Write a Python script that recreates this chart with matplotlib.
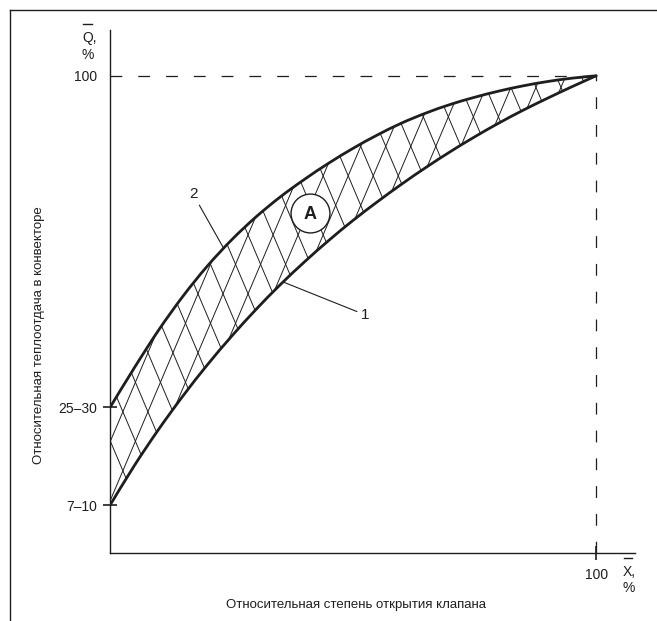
import numpy as np
import matplotlib.pyplot as plt
from matplotlib.patches import PathPatch
from matplotlib.path import Path
from matplotlib.collections import LineCollection
from matplotlib.lines import Line2D

plt.rcParams['font.family'] = ['Liberation Sans', 'DejaVu Sans']
plt.rcParams['lines.scale_dashes'] = False

# valve opening, %
x_open = [0, 5, 10, 15, 20, 25, 30, 35, 40, 45, 50,
          55, 60, 65, 70, 75, 80, 85, 90, 95, 100]
# curve 1 (lower boundary), relative heat output, %
q_lower = [10.0, 18.3, 25.9, 32.9, 39.4, 45.4, 51.0, 56.2, 61.0, 65.5, 69.7,
           73.6, 77.3, 80.8, 84.1, 87.2, 90.1, 92.8, 95.3, 97.7, 100.0]
# curve 2 (upper boundary)
q_upper = [30.5, 38.8, 46.7, 53.8, 60.1, 65.6, 70.4, 74.6, 78.3, 81.7, 84.8,
           87.6, 90.1, 92.2, 94.0, 95.5, 96.8, 97.9, 98.8, 99.5, 100.0]

ytick_pos = [q_lower[0], q_upper[0], 100]
ytick_labels = ['7\u201310', '25\u201330', '100']
xtick_pos = [100]
xtick_labels = ['100']

ink = '#1e1e1e'


def smooth_path_verts(xs, ys):
    """Cubic Bezier pieces (Catmull-Rom tangents) through the given points."""
    p = np.column_stack([xs, ys]).astype(float)
    n = len(p)
    verts = [p[0]]
    codes = [Path.MOVETO]
    for i in range(n - 1):
        p0 = p[max(i - 1, 0)]
        p1, p2 = p[i], p[i + 1]
        p3 = p[min(i + 2, n - 1)]
        verts += [p1 + (p2 - p0) / 6, p2 - (p3 - p1) / 6, p2]
        codes += [Path.CURVE4] * 3
    return np.array(verts), codes


fig = plt.figure(figsize=(6.57, 6.21), dpi=100)
ax = fig.add_axes([110 / 657, 68 / 621, 525 / 657, 523 / 621])
ax.set_xlim(0, 108)
ax.set_ylim(0, 109.6)
for side in ['top', 'right']:
    ax.spines[side].set_visible(False)
for side in ['left', 'bottom']:
    ax.spines[side].set_linewidth(1.0)
    ax.spines[side].set_color(ink)

ax.set_yticks(ytick_pos)
ax.set_yticklabels(ytick_labels)
ax.set_xticks(xtick_pos)
ax.set_xticklabels(xtick_labels)
ax.tick_params(axis='y', direction='inout', length=10, width=1.2, pad=4.3,
               labelsize=10, colors=ink)
ax.tick_params(axis='x', direction='inout', length=10, width=1.2, pad=5.8,
               labelsize=10, colors=ink)
ax.yaxis.get_major_ticks()[2].tick1line.set_visible(False)

# dashed guides to the 100 % point
ax.plot([0, x_open[-1]], [q_upper[-1], q_upper[-1]], color=ink, lw=0.9,
        ls=(0, (8.5, 11.5)), zorder=1)
ax.plot([x_open[-1], x_open[-1]], [0, q_upper[-1]], color=ink, lw=0.9,
        ls=(0, (8.5, 11.5)), zorder=1)

up_v, up_c = smooth_path_verts(x_open, q_upper)
lo_v, lo_c = smooth_path_verts(x_open, q_lower)

# band outline: upper curve forward, lower curve backward
lo_rev_v, lo_rev_c = smooth_path_verts(x_open[::-1], q_lower[::-1])
band_v = np.vstack([up_v, lo_rev_v, up_v[:1]])
band_c = up_c + [Path.LINETO] + lo_rev_c[1:] + [Path.CLOSEPOLY]
band = PathPatch(Path(band_v, band_c), fc='none', ec='none')
ax.add_patch(band)

# cross hatching of the band between the curves
h_step = 5.15
h_slope = 2.4
h_x0, h_y0 = 7.8, 29.6
segs = []
for k in range(-30, 30):
    xa = h_x0 + k * h_step
    segs.append([(xa - 50, h_y0 - 50 * h_slope), (xa + 50, h_y0 + 50 * h_slope)])
    segs.append([(xa - 50, h_y0 + 50 * h_slope), (xa + 50, h_y0 - 50 * h_slope)])
hatch = LineCollection(segs, colors=ink, linewidths=0.7, zorder=2)
ax.add_collection(hatch)
hatch.set_clip_path(band)

for v, c in [(up_v, up_c), (lo_v, lo_c)]:
    ax.add_patch(PathPatch(Path(v, c), fc='none', ec=ink, lw=2.0, zorder=3,
                           capstyle='round'))

# region marker A
ax.plot(41.2, 71.3, 'o', ms=28, mfc='white', mec=ink, mew=1.0, zorder=4)
ax.text(41.2, 71.3, 'A', ha='center', va='center_baseline', fontsize=13,
        fontweight='bold', color=ink, zorder=5)

# curve numbers
ax.annotate('2', xy=(23.3, 64.0), xytext=(17.1, 75.2), fontsize=11,
            color=ink, ha='center', va='center',
            arrowprops=dict(arrowstyle='-', lw=0.8, color=ink, shrinkA=1, shrinkB=0))
ax.annotate('1', xy=(35.6, 56.8), xytext=(52.5, 49.9), fontsize=11,
            color=ink, ha='center', va='center',
            arrowprops=dict(arrowstyle='-', lw=0.8, color=ink, shrinkA=1, shrinkB=0))

# axis symbols
W, H = 657, 621
fig.text(82 / W, 1 - 38 / H, 'Q,', ha='left', va='center', fontsize=10, color=ink)
fig.text(88 / W, 1 - 55 / H, '%', ha='center', va='center', fontsize=10, color=ink)
fig.add_artist(Line2D([83 / W, 92 / W], [1 - 24 / H, 1 - 24 / H], color=ink, lw=1.0))
fig.text(623 / W, 1 - 572 / H, 'X,', ha='left', va='center', fontsize=10, color=ink)
fig.text(629 / W, 1 - 588 / H, '%', ha='center', va='center', fontsize=10, color=ink)
fig.add_artist(Line2D([624 / W, 632 / W], [1 - 558 / H, 1 - 558 / H], color=ink, lw=1.0))

fig.text(356 / W, 1 - 605 / H, 'Относительная степень открытия клапана',
         ha='center', va='center', fontsize=9.5, color=ink)
fig.text(39 / W, 1 - 335 / H, 'Относительная теплоотдача в конвекторе',
         ha='center', va='center', rotation=90, fontsize=9.5, color=ink)

# outer frame
fig.add_artist(Line2D([10 / W, 10 / W], [0, 1 - 10 / H], color=ink, lw=1.0))
fig.add_artist(Line2D([10 / W, 1], [1 - 10 / H, 1 - 10 / H], color=ink, lw=1.0))

fig.savefig('out.png', dpi=100)
